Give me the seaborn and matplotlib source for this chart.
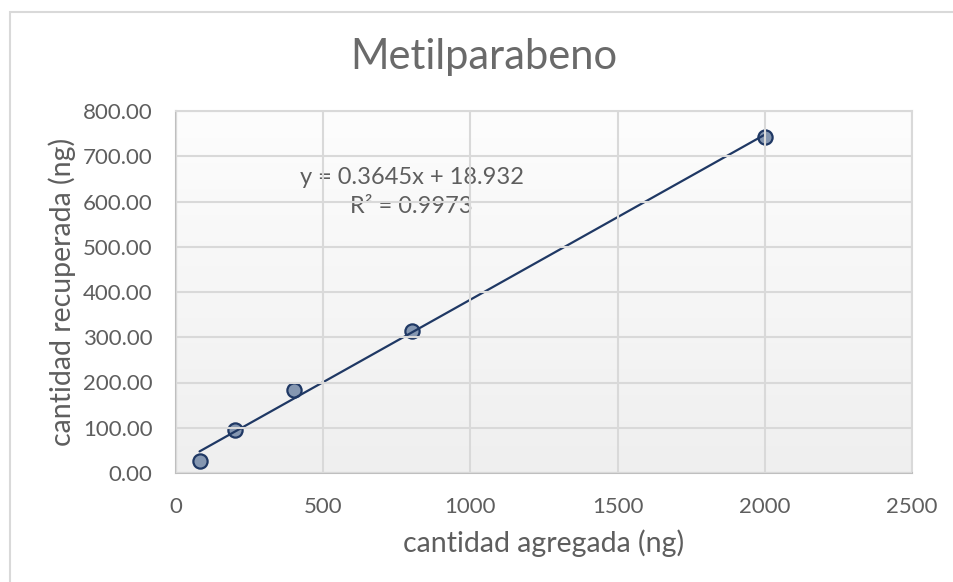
import numpy as np
import pandas as pd
import matplotlib.pyplot as plt
import seaborn as sns
from matplotlib.colors import LinearSegmentedColormap
from matplotlib.patches import Rectangle

# Data
cantidad_agregada = [80, 200, 400, 800, 2000]
cantidad_recuperada = [26.5, 95.0, 183.0, 314.0, 743.0]
x_ticks = [0, 500, 1000, 1500, 2000, 2500]
y_ticks = [0, 100, 200, 300, 400, 500, 600, 700, 800]
titulo = 'Metilparabeno'
ecuacion = 'y = 0.3645x + 18.932'
r_cuadrado = 'R² = 0.9973'

df = pd.DataFrame({'agregada': cantidad_agregada, 'recuperada': cantidad_recuperada})

sns.set_style('white')
plt.rcParams['font.family'] = ['Lato', 'DejaVu Sans']
gris = '#5e5e5e'

fig = plt.figure(figsize=(9.54, 5.82), dpi=100)
ax = fig.add_axes([176 / 954, 1 - 473 / 582, 736 / 954, 362 / 582])

# gradient background of the plot area
fondo = LinearSegmentedColormap.from_list('fondo', ['#efefef', '#fdfdfd'])
ax.imshow(np.linspace(0, 1, 256).reshape(-1, 1), extent=[0, 1, 0, 1],
          transform=ax.transAxes, aspect='auto', cmap=fondo, origin='lower', zorder=0)

# scatter with linear trendline
sns.regplot(data=df, x='agregada', y='recuperada', ax=ax, ci=None, truncate=True,
            scatter_kws=dict(s=105, color='#8597b1', edgecolors='#1f3864',
                             linewidths=1.6, alpha=1, zorder=1),
            line_kws=dict(color='#1f3864', lw=1.6, zorder=2))

ax.set_xlim(0, 2500)
ax.set_ylim(0, 800)
ax.set_xticks(x_ticks)
ax.set_yticks(y_ticks)
ax.set_yticklabels([f'{v:.2f}' for v in y_ticks])
ax.tick_params(axis='both', length=0, labelsize=16, colors=gris)
ax.tick_params(axis='y', pad=17)
ax.tick_params(axis='x', pad=17)
ax.set_xlabel('')
ax.set_ylabel('')

ax.set_axisbelow(False)
ax.grid(True, color='#d9d9d9', lw=1.5)
for lado in ['top', 'right']:
    ax.spines[lado].set_color('#d9d9d9')
    ax.spines[lado].set_linewidth(1.5)
for lado in ['left', 'bottom']:
    ax.spines[lado].set_color('#bfbfbf')
    ax.spines[lado].set_linewidth(1.5)

ax.text(800, 652, ecuacion, ha='center', va='center', fontsize=17, color=gris, zorder=1)
ax.text(800, 588, r_cuadrado, ha='center', va='center', fontsize=17, color=gris, zorder=1)

fig.text(484 / 954, 1 - 57 / 582, titulo, ha='center', va='center', fontsize=30, color='#6a6a6a')
fig.text(544 / 954, 1 - 543 / 582, 'cantidad agregada (ng)', ha='center', va='center',
         fontsize=20.5, color=gris)
fig.text(62 / 954, 1 - 292 / 582, 'cantidad recuperada (ng)', ha='center', va='center',
         rotation=90, fontsize=20.5, color=gris)

# chart area border
fig.patches.append(Rectangle((10 / 954, -0.1), 1.2, 1.1 - 12 / 582, transform=fig.transFigure,
                             fill=False, edgecolor='#d9d9d9', lw=1.5, figure=fig))

fig.savefig('out.png', dpi=100)
